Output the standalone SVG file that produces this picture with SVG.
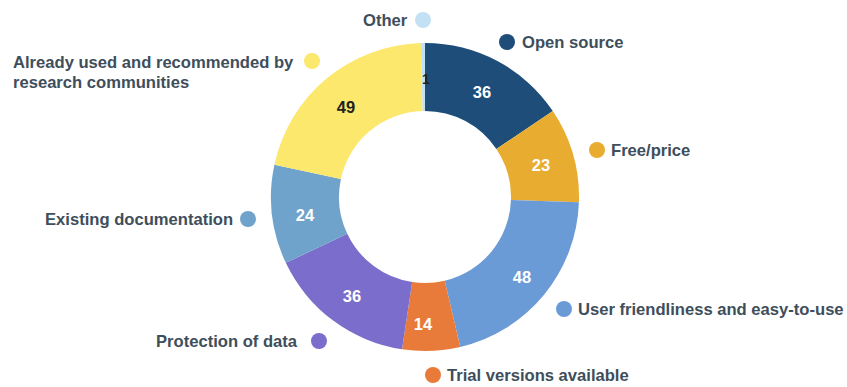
<svg xmlns="http://www.w3.org/2000/svg" width="847" height="387" viewBox="0 0 847 387">
<style>
.lbl{font-family:"Liberation Sans",Arial,sans-serif;font-weight:bold;font-size:16.6px;fill:#3e4e5b}
.num{font-family:"Liberation Sans",Arial,sans-serif;font-weight:bold;font-size:16.5px;fill:#ffffff;text-anchor:middle}
.dark{fill:#222222}
</style>
<rect width="847" height="387" fill="#ffffff"/>
<g id="slices">
<g id="open-source"><path d="M425,43 A154,154 0 0 1 552.79,111.07 L496.36,149.01 A86,86 0 0 0 425,111 Z" fill="#1d4d78"/><text class="num" x="482" y="98">36</text></g>
<g id="free-price"><path d="M552.79,111.07 A154,154 0 0 1 578.91,202.23 L510.95,199.92 A86,86 0 0 0 496.36,149.01 Z" fill="#e8ad30"/><text class="num" x="541" y="171">23</text></g>
<g id="user-friendliness"><path d="M578.91,202.23 A154,154 0 0 1 460.29,346.90 L444.71,280.71 A86,86 0 0 0 510.95,199.92 Z" fill="#6a9bd6"/><text class="num" x="522" y="283">48</text></g>
<g id="trial"><path d="M460.29,346.90 A154,154 0 0 1 402.05,349.28 L412.18,282.04 A86,86 0 0 0 444.71,280.71 Z" fill="#e97b3a"/><text class="num" x="423" y="330">14</text></g>
<g id="protection"><path d="M402.05,349.28 A154,154 0 0 1 285.80,262.87 L347.27,233.79 A86,86 0 0 0 412.18,282.04 Z" fill="#7a6dcb"/><text class="num" x="352" y="302">36</text></g>
<g id="existing-doc"><path d="M285.80,262.87 A154,154 0 0 1 274.41,164.78 L340.90,179.01 A86,86 0 0 0 347.27,233.79 Z" fill="#6fa3cb"/><text class="num" x="305" y="221">24</text></g>
<g id="already-used"><path d="M274.41,164.78 A154,154 0 0 1 420.81,43.06 L422.66,111.03 A86,86 0 0 0 340.90,179.01 Z" fill="#fbe86c"/><text class="num dark" x="346" y="113">49</text></g>
<g id="other-slice"><path d="M420.81,43.06 A154,154 0 0 1 425,43 L425,111 A86,86 0 0 0 422.66,111.03 Z" fill="#c3e1f5"/><text class="num dark" x="426" y="84" style="font-size:14px">1</text></g>
</g>
<g id="legend">
<g id="lg-other"><circle cx="423" cy="20" r="8" fill="#c3e1f5"/><text class="lbl" x="363" y="26">Other</text></g>
<g id="lg-open"><circle cx="507" cy="42" r="8" fill="#1d4d78"/><text class="lbl" x="522" y="48">Open source</text></g>
<g id="lg-free"><circle cx="597" cy="150" r="8" fill="#e8ad30"/><text class="lbl" x="611" y="156">Free/price</text></g>
<g id="lg-user"><circle cx="564" cy="309" r="8" fill="#6a9bd6"/><text class="lbl" x="578" y="315">User friendliness and easy-to-use</text></g>
<g id="lg-trial"><circle cx="433" cy="375" r="8" fill="#e97b3a"/><text class="lbl" x="447" y="381">Trial versions available</text></g>
<g id="lg-protection"><circle cx="319" cy="341" r="8" fill="#7a6dcb"/><text class="lbl" x="156" y="347">Protection of data</text></g>
<g id="lg-existing"><circle cx="248" cy="219" r="8" fill="#6fa3cb"/><text class="lbl" x="45" y="225">Existing documentation</text></g>
<g id="lg-already"><circle cx="312" cy="61" r="8" fill="#fbe86c"/><text class="lbl" x="13" y="68">Already used and recommended by</text><text class="lbl" x="13" y="88">research communities</text></g>
</g>
</svg>
